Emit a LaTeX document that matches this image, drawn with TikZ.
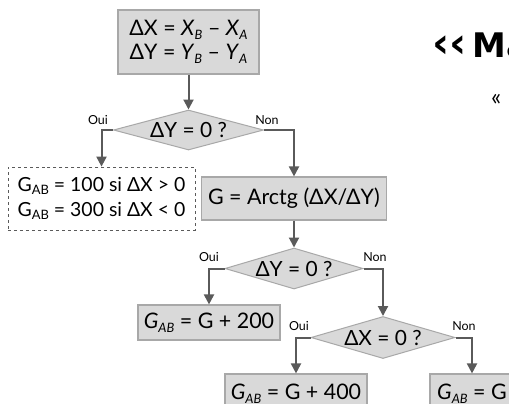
\documentclass[tikz,border=0pt]{standalone}
\usepackage{fontspec}
\setmainfont{Lato}
\newfontfamily\heavyfont{DejaVu Sans}
\usetikzlibrary{shapes.geometric,arrows.meta}
\definecolor{boxfill}{HTML}{D9D9D9}
\definecolor{boxdraw}{HTML}{A8A8A8}
\definecolor{arrowcol}{HTML}{5A5A5A}
\newcommand\sbs[1]{\raisebox{-0.35ex}{\fontsize{13}{13}\selectfont #1}}
\tikzset{
  procbox/.style={draw=boxdraw, fill=boxfill, line width=1.2bp, inner sep=0pt, align=center, font=\fontsize{21.5}{24}\selectfont},
  notebox/.style={draw=arrowcol, dashed, line width=0.8bp, inner sep=0pt, align=left, font=\fontsize{19.5}{25}\selectfont},
  testnode/.style={diamond, draw=boxdraw, fill=boxfill, line width=1bp, inner sep=0pt, shape aspect=3.5},
  testtext/.style={font=\fontsize{21}{21}\selectfont, inner sep=0pt},
  flow/.style={draw=arrowcol, line width=2bp, -{Triangle[width=10bp,length=10bp]}},
  lbl/.style={font=\fontsize{12.5}{12.5}\selectfont, text=black, inner sep=0pt},
}
\begin{document}
\begin{tikzpicture}[x=1bp,y=-1bp]
\useasboundingbox[fill=white] (0,0) rectangle (509,403);
% top box
\node[procbox, minimum width=141bp, minimum height=64bp] (init) at (188.5,42)
  {ΔX = \textit{X}\sbs{\textit{B}} -- \textit{X}\sbs{\textit{A}}\\ ΔY = \textit{Y}\sbs{\textit{B}} -- \textit{Y}\sbs{\textit{A}}};
% diamond 1
\node[testnode, minimum width=150bp, minimum height=40bp] (d1) at (188.5,130) {};
\node[testtext] (d1t) at (d1.center) {ΔY = 0 ?};
\node[lbl] (oui1) at (98,120) {Oui};
\node[lbl] (non1) at (267,120) {Non};
% dashed box
\node[notebox, minimum width=187bp, minimum height=63bp] (note) at (101.5,198.5)
  {G\sbs{AB} = 100 si ΔX > 0\\G\sbs{AB} = 300 si ΔX < 0};
% G box
\node[procbox, minimum width=185bp, minimum height=43bp] (g) at (294,198.5) {G = Arctg (ΔX/ΔY)};
% diamond 2
\node[testnode, minimum width=138bp, minimum height=41bp] (d2) at (294,268.5) {};
\node[testtext] (d2t) at (d2.center) {ΔY = 0 ?};
\node[lbl] (oui2) at (209,257) {Oui};
\node[lbl] (non2) at (375,257) {Non};
% box 200
\node[procbox, minimum width=142bp, minimum height=35bp] (b200) at (209,322.5) {\textit{G}\sbs{\textit{AB}} = G + 200};
% diamond 3
\node[testnode, minimum width=144bp, minimum height=42bp] (d3) at (383,337.5) {};
\node[testtext] (d3t) at (d3.center) {ΔX = 0 ?};
\node[lbl] (oui3) at (299,326) {Oui};
\node[lbl] (non3) at (464,326) {Non};
% bottom boxes
\node[procbox, minimum width=142bp, minimum height=40bp] (b400) at (296,394) {\textit{G}\sbs{\textit{AB}} = G + 400};
\node[procbox, minimum width=84bp, minimum height=40bp] (bg) at (472,394) {\textit{G}\sbs{\textit{AB}} = G};
% connectors
\draw[flow] (init.south) -- (d1.north);
\draw[flow] (d1.west) -| (note.north);
\draw[flow] (d1.east) -| (g.north);
\draw[flow] (g.south) -- (d2.north);
\draw[flow] (d2.west) -| (b200.north);
\draw[flow] (d2.east) -| (d3.north);
\draw[flow] (d3.west) -| (b400.north);
\draw[flow] (d3.east) -| (bg.north);
% cut-off text at right
\node[anchor=base west, inner sep=0pt, font=\heavyfont\bfseries] (title) at (432,57)
  {{\fontsize{42}{42}\selectfont ‹‹}\hspace{6bp}{\fontsize{34}{34}\selectfont Ma}};
\node[anchor=west, inner sep=0pt, font=\fontsize{24}{24}\selectfont] (quote) at (491,100) {«};
\end{tikzpicture}
\end{document}
